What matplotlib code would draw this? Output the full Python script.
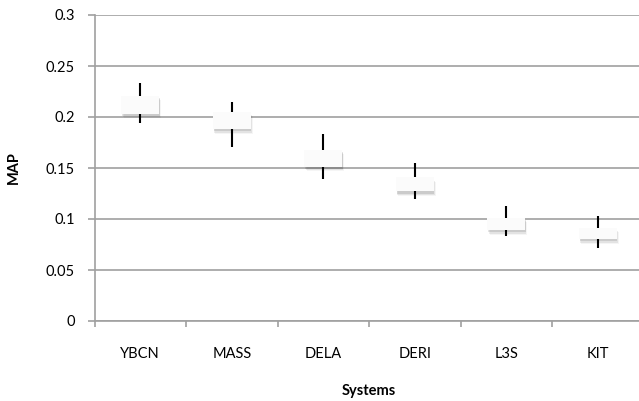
import matplotlib
matplotlib.use("Agg")
import matplotlib.pyplot as plt
import matplotlib.patheffects as pe
from matplotlib.ticker import FixedLocator

# Data (MAP per system)
systems = ["YBCN", "MASS", "DELA", "DERI", "L3S", "KIT"]
high = [0.233, 0.215, 0.183, 0.155, 0.113, 0.103]
low = [0.194, 0.171, 0.139, 0.120, 0.083, 0.072]
box_top = [0.221, 0.205, 0.168, 0.141, 0.101, 0.0915]
box_bottom = [0.203, 0.188, 0.151, 0.127, 0.089, 0.080]

plt.rcParams['font.family'] = ['Lato', 'DejaVu Sans']

grid_col = "#a0a0a0"

fig = plt.figure(figsize=(6.39, 4.01), dpi=100)
ax = fig.add_axes([94.5 / 639, 80 / 401, 549 / 639, 306 / 401])

x = list(range(len(systems)))

# high-low lines
ax.vlines(x, low, high, color="black", lw=1.5, zorder=3)

# boxes with soft drop shadow
heights = [t - b for t, b in zip(box_top, box_bottom)]
shadow = [pe.SimplePatchShadow(offset=(ox, -oy), shadow_rgbFace="black", alpha=a)
          for ox, oy, a in [(1.5, 3.2, 0.04), (1.0, 2.4, 0.07), (0.6, 1.5, 0.10)]]
ax.bar(x, heights, bottom=box_bottom, width=0.41, color="#fbfbfb",
       edgecolor="none", zorder=4, path_effects=shadow + [pe.Normal()])

ax.set_xlim(-0.5, len(systems) - 0.5)
ax.set_ylim(0, 0.3)
ax.set_yticks([0, 0.05, 0.1, 0.15, 0.2, 0.25, 0.3])
ax.set_yticklabels(["0", "0.05", "0.1", "0.15", "0.2", "0.25", "0.3"])
ax.yaxis.grid(True, color=grid_col, lw=1.2)
ax.set_axisbelow(True)

ax.set_xticks(x)
ax.set_xticklabels(systems)
ax.xaxis.set_minor_locator(FixedLocator([i - 0.5 for i in range(len(systems) + 1)]))
ax.tick_params(axis="x", which="major", length=0, pad=19, labelsize=10.5, colors="black")
ax.tick_params(axis="x", which="minor", length=4, width=1.2, color=grid_col, direction="out")
ax.tick_params(axis="y", length=5, width=1.2, color=grid_col, pad=9, labelsize=10.5)

for s in ["top", "right"]:
    ax.spines[s].set_visible(False)
for s in ["left", "bottom"]:
    ax.spines[s].set_color(grid_col)
    ax.spines[s].set_linewidth(1.2)

ax.set_ylabel("MAP", fontweight="bold", fontsize=10.5, labelpad=18)
ax.set_xlabel("Systems", fontweight="bold", fontsize=10.5, labelpad=16)

fig.savefig("out.png", dpi=100)
